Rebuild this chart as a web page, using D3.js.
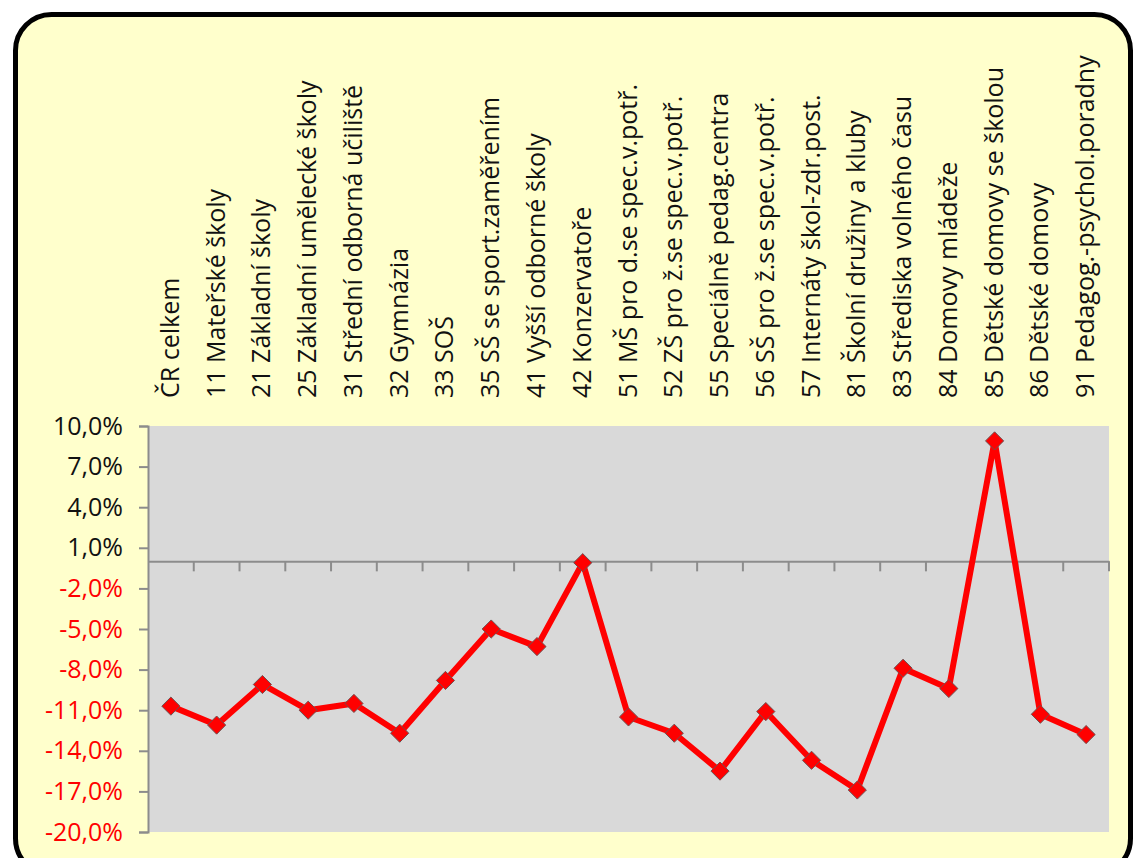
<!DOCTYPE html>
<html>
<head>
<meta charset="utf-8">
<script src="https://cdn.jsdelivr.net/npm/d3@7"></script>
<style>
  body { margin: 0; background: #fff; }
  svg text { font-family: "Open Sans", sans-serif; }
</style>
</head>
<body>
<div id="chart"></div>
<script>
// categories and values (change in %)
var categories = [
    "ČR celkem", "11 Mateřské školy", "21 Základní školy", "25 Základní umělecké školy",
    "31 Střední odborná učiliště", "32 Gymnázia", "33 SOŠ", "35 SŠ se sport.zaměřením",
    "41 Vyšší odborné školy", "42 Konzervatoře", "51 MŠ pro d.se spec.v.potř.",
    "52 ZŠ pro ž.se spec.v.potř.", "55 Speciálně pedag.centra", "56 SŠ pro ž.se spec.v.potř.",
    "57 Internáty škol-zdr.post.", "81 Školní družiny a kluby", "83 Střediska volného času",
    "84 Domovy mládeže", "85 Dětské domovy se školou", "86 Dětské domovy",
    "91 Pedagog.-psychol.poradny"
];
var values = [-10.7, -12.1, -9.1, -11.0, -10.5, -12.7, -8.8, -5.0, -6.3, -0.1,
              -11.5, -12.7, -15.5, -11.1, -14.7, -16.9, -7.9, -9.4, 8.9, -11.3, -12.8];
var yTicks = [10, 7, 4, 1, -2, -5, -8, -11, -14, -17, -20];

var W = 1134, H = 858;
var margin = {top: 426, right: 25, bottom: 26, left: 148},
    width = W - margin.left - margin.right,
    height = H - margin.top - margin.bottom;

var svg = d3.select("#chart").append("svg")
    .attr("width", W)
    .attr("height", H);

// rounded frame
svg.append("rect")
    .attr("x", 15.5).attr("y", 14.5)
    .attr("width", 1115).attr("height", 860)
    .attr("rx", 36).attr("ry", 36)
    .attr("fill", "#ffffcc")
    .attr("stroke", "#000")
    .attr("stroke-width", 5);

var g = svg.append("g")
    .attr("transform", "translate(" + margin.left + "," + margin.top + ")");

var x = d3.scaleBand().domain(categories).range([0, width]);
var y = d3.scaleLinear().domain([-20, 10]).range([height, 0]);

// plot area
g.append("rect")
    .attr("width", width).attr("height", height)
    .attr("fill", "#d9d9d9");

// y axis
var yAxis = d3.axisLeft(y).tickValues(yTicks).tickSize(9).tickPadding(16)
    .tickFormat(d => d3.format(".1f")(d).replace(".", ",").replace("−", "-") + "%");
var ya = g.append("g").attr("class", "y axis").call(yAxis);
ya.select(".domain").attr("stroke", "#8c8c8c").attr("stroke-width", 2);
ya.selectAll(".tick line").attr("stroke", "#8c8c8c").attr("stroke-width", 2);
ya.selectAll(".tick text")
    .attr("font-size", 25)
    .attr("fill", d => d < 0 ? "#ff0000" : "#111");

// category axis crossing at 0
var xAxis = d3.axisBottom(x).tickSize(0).tickFormat("");
var xa = g.append("g").attr("class", "x axis")
    .attr("transform", "translate(0," + y(0) + ")")
    .call(xAxis);
xa.select(".domain").attr("stroke", "#8c8c8c").attr("stroke-width", 2);
// tick marks at band boundaries
xa.selectAll(".bound")
    .data(categories.slice(1).concat(["__end"]))
    .enter().append("line")
    .attr("x1", (d, i) => i < categories.length - 1 ? x(d) : width)
    .attr("x2", (d, i) => i < categories.length - 1 ? x(d) : width)
    .attr("y1", 0).attr("y2", 10)
    .attr("stroke", "#8c8c8c").attr("stroke-width", 2);

// rotated category labels above plot
g.selectAll(".catlabel")
    .data(categories)
    .enter().append("text")
    .attr("class", "catlabel")
    .attr("transform", d => "translate(" + (x(d) + x.bandwidth() / 2 + 8) + "," + (-28) + ") rotate(-90)")
    .attr("font-size", 25)
    .attr("fill", "#111")
    .text(d => d);

// line
var line = d3.line()
    .x((d, i) => x(categories[i]) + x.bandwidth() / 2)
    .y(d => y(d));

g.append("path")
    .datum(values)
    .attr("d", line)
    .attr("fill", "none")
    .attr("stroke", "#ff0000")
    .attr("stroke-width", 6)
    .attr("stroke-linejoin", "round");

// diamond markers
g.selectAll(".marker")
    .data(values)
    .enter().append("path")
    .attr("class", "marker")
    .attr("d", d3.symbol().type(d3.symbolDiamond2).size(210))
    .attr("transform", (d, i) => "translate(" + (x(categories[i]) + x.bandwidth() / 2) + "," + y(d) + ")")
    .attr("fill", "#ff0000")
    .attr("stroke", "#6e5050")
    .attr("stroke-width", 1);
</script>
</body>
</html>
